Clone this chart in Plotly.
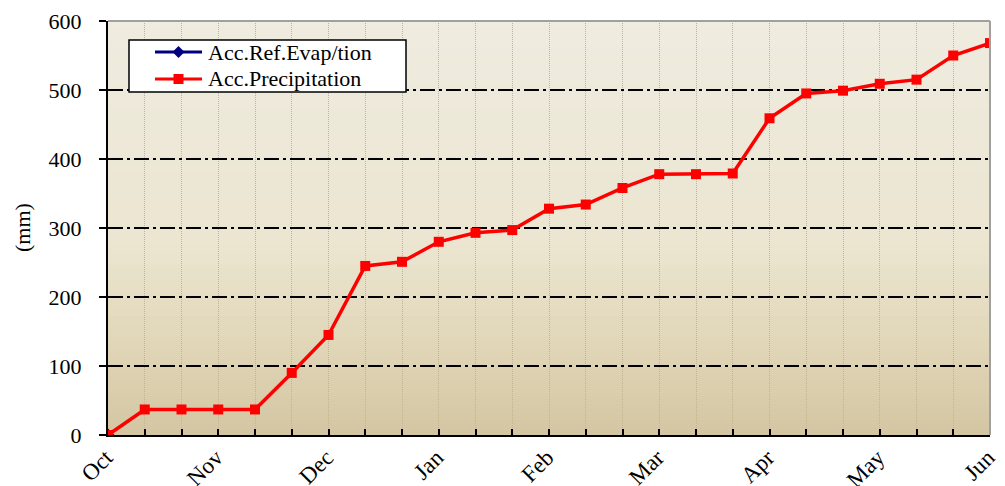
import plotly.graph_objects as go

# ---- data ----
x_index = list(range(25))
precip = [0, 37, 37, 37, 37, 90, 145, 245, 251, 280, 293, 297, 328, 334,
          358, 378, 378, 379, 459, 495, 499, 509, 515, 550, 568]
evap_x = [0]
evap = [0]
months = ["Oct", "Nov", "Dec", "Jan", "Feb", "Mar", "Apr", "May", "Jun"]
tick_text = [months[i // 3] if i % 3 == 0 else "" for i in x_index]
y_ticks = [0, 100, 200, 300, 400, 500, 600]
series_names = ["Acc.Ref.Evap/tion", "Acc.Precipitation"]
series_colors = ["#000080", "#ff0000"]
series_symbols = ["diamond", "square"]

FONT = "Palatino Linotype, Book Antiqua, Palatino, Liberation Serif, serif"

fig = go.Figure()
fig.add_trace(go.Scatter(
    x=evap_x, y=evap, mode="lines+markers", name=series_names[0], showlegend=False,
    line=dict(color=series_colors[0], width=3),
    marker=dict(symbol=series_symbols[0], size=10, color=series_colors[0]),
))
fig.add_trace(go.Scatter(
    x=x_index, y=precip, mode="lines+markers", name=series_names[1], showlegend=False,
    line=dict(color=series_colors[1], width=3.5),
    marker=dict(symbol=series_symbols[1], size=10, color=series_colors[1]),
))

# background gradient (style only)
stops = [(0.0, (0xd4, 0xc6, 0xa2)), (0.25, (0xe2, 0xd8, 0xbb)),
         (0.45, (0xeb, 0xe5, 0xd0)), (1.0, (0xef, 0xec, 0xe0))]
def col(t):
    for (a, ca), (b, cb) in zip(stops[:-1], stops[1:]):
        if a <= t <= b:
            f = (t - a) / (b - a)
            return "rgb(%d,%d,%d)" % tuple(round(ca[k] + (cb[k] - ca[k]) * f) for k in range(3))
    return "rgb(239,236,224)"
N = 80
shapes = []
for i in range(N):
    t0, t1 = i / N, (i + 1) / N
    shapes.append(dict(type="rect", xref="x domain", yref="y domain",
                       x0=0, x1=1, y0=t0, y1=t1 + 0.002, layer="below",
                       line=dict(width=0), fillcolor=col((t0 + t1) / 2)))
# gray top/right border
shapes.append(dict(type="line", xref="x domain", yref="y domain", x0=0, x1=1, y0=1, y1=1,
                   line=dict(color="#a0a0a0", width=2), layer="above"))
shapes.append(dict(type="line", xref="x domain", yref="y domain", x0=1, x1=1, y0=0, y1=1,
                   line=dict(color="#a0a0a0", width=2), layer="above"))

# ---- custom legend box (paper coords: plot 882x414 px) ----
PW, PH = 882.0, 414.0
def px(xp): return (xp - 108) / PW
def py(yp): return (435 - yp) / PH
shapes.append(dict(type="rect", xref="paper", yref="paper",
                   x0=px(129), x1=px(406), y0=py(92), y1=py(40),
                   fillcolor="white", line=dict(color="black", width=1.5), layer="above"))
annotations = []
for k, (nm, c, sym) in enumerate(zip(series_names, series_colors, series_symbols)):
    yc = 52 + 27 * k
    shapes.append(dict(type="line", xref="paper", yref="paper",
                       x0=px(155), x1=px(202), y0=py(yc), y1=py(yc),
                       line=dict(color=c, width=3), layer="above"))
    mx, r = 178.5, 5
    if sym == "square":
        shapes.append(dict(type="rect", xref="paper", yref="paper",
                           x0=px(mx - r), x1=px(mx + r), y0=py(yc + r), y1=py(yc - r),
                           fillcolor=c, line=dict(width=0), layer="above"))
    else:
        path = "M %f,%f L %f,%f L %f,%f L %f,%f Z" % (
            px(mx - r - 1), py(yc), px(mx), py(yc - r - 1),
            px(mx + r + 1), py(yc), px(mx), py(yc + r + 1))
        shapes.append(dict(type="path", xref="paper", yref="paper", path=path,
                           fillcolor=c, line=dict(width=0), layer="above"))
    annotations.append(dict(text=nm, xref="paper", yref="paper", x=px(206), y=py(yc),
                            xanchor="left", yanchor="middle", showarrow=False,
                            font=dict(family=FONT, size=22, color="black")))

annotations.append(dict(text="(mm)", xref="paper", yref="paper",
                        x=-0.0975, y=0.5, textangle=-90, showarrow=False,
                        xanchor="center", yanchor="middle",
                        font=dict(family=FONT, size=22)))

fig.update_layout(
    width=997, height=478,
    margin=dict(l=100, r=15, t=13, b=51, autoexpand=False),
    paper_bgcolor="white", plot_bgcolor="rgba(0,0,0,0)",
    font=dict(family=FONT, size=22, color="black"),
    shapes=shapes, annotations=annotations,
    showlegend=False,
)
fig.update_xaxes(
    range=[0, 24], tickmode="array", tickvals=x_index, ticktext=tick_text,
    tickangle=-45, ticks="inside", ticklen=6, tickwidth=2, tickcolor="black",
    showline=True, linecolor="black", linewidth=2,
    showgrid=True, gridcolor="#b4b4b4", griddash="1px,1px", gridwidth=1,
    zeroline=False, tickfont=dict(family=FONT, size=23), automargin=False,
    ticklabelshift=-2, ticklabelstandoff=-2,
)
fig.update_yaxes(
    range=[0, 600], tickmode="array", tickvals=y_ticks,
    ticks="outside", ticklen=7, tickwidth=1.5, tickcolor="black",
    showline=True, linecolor="black", linewidth=2,
    showgrid=True, gridcolor="black", griddash="15px,4px,3px,4px", gridwidth=1.5,
    zeroline=False, tickfont=dict(family=FONT, size=22), automargin=False,
    ticklabelstandoff=13,
)

fig.write_html("out.html")
